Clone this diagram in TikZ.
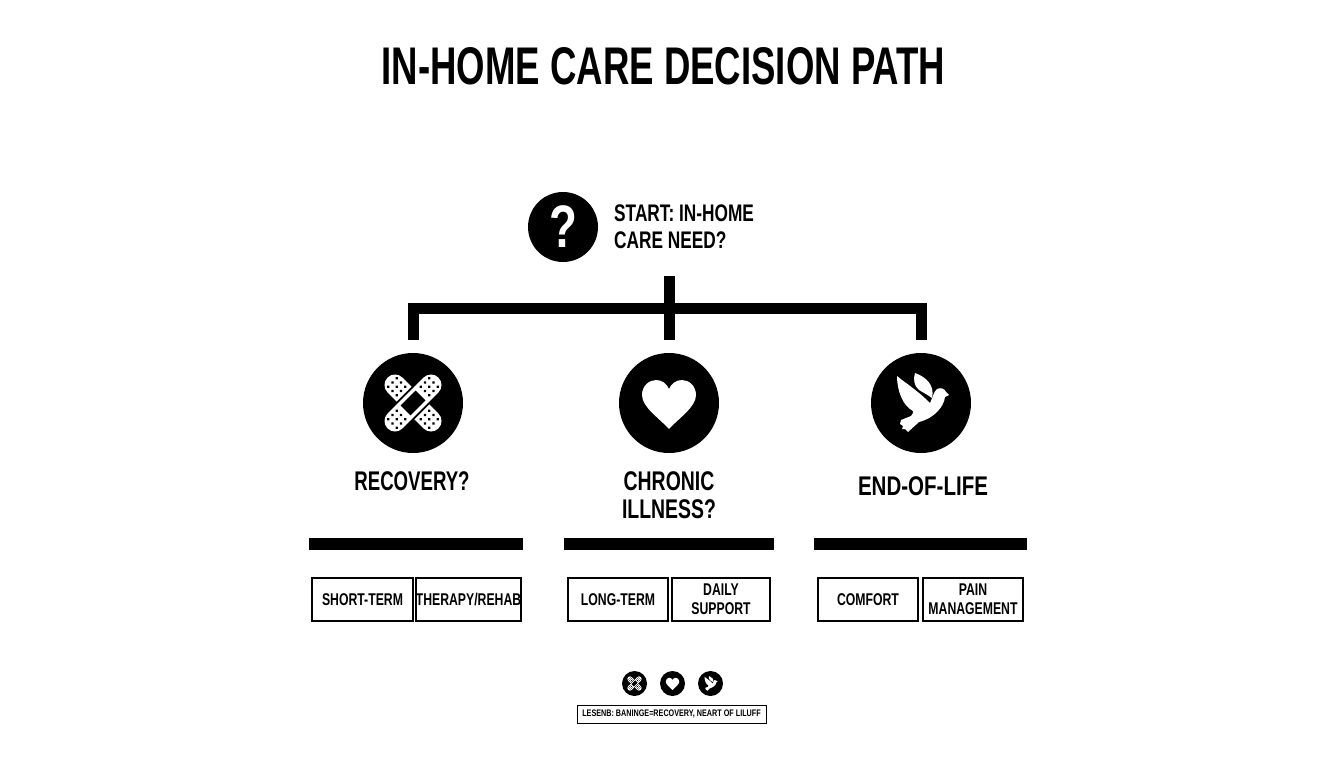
\documentclass[tikz,border=0pt]{standalone}
\usepackage{fontspec}
\setmainfont{Liberation Sans}[FakeStretch=0.69]
\newfontfamily\midfont{Liberation Sans}[FakeStretch=0.72]
\newfontfamily\widefont{Liberation Sans}[FakeStretch=0.76]
\newcommand{\fs}[1]{\fontsize{#1}{#1}\selectfont\bfseries}
\newcommand{\armdots}{%
  \foreach \u in {17,23,29}{\foreach \v in {-6,0,6}{\fill[black] (\u,\v) circle[radius=1.5];}}}
\newcommand{\bandageicon}[3]{%
 \begin{scope}[shift={(#1,#2)},scale=#3]
  \draw[white,line cap=round,line width=#3*21pt] (-18,-18) -- (18,18);
  \foreach \r in {135,315}{\begin{scope}[rotate=\r]\armdots\end{scope}}
  \draw[black,line cap=butt,line width=#3*25pt] (-17,17) -- (17,-17);
  \draw[white,line cap=round,line width=#3*21pt] (-18,18) -- (18,-18);
  \foreach \r in {45,225}{\begin{scope}[rotate=\r]\armdots\end{scope}}
  \draw[black,line cap=butt,line width=#3*14pt] (-7.5,7.5) -- (7.5,-7.5);
 \end{scope}}
\newcommand{\hearticon}[3]{%
 \fill[white,shift={(#1,#2)},scale=#3] (0,26) .. controls (-10,15) and (-27,4) .. (-27,-8)
   .. controls (-27,-17) and (-20,-23) .. (-13,-23) .. controls (-7,-23) and (-2,-19) .. (0,-14)
   .. controls (2,-19) and (7,-23) .. (13,-23) .. controls (20,-23) and (27,-17) .. (27,-8)
   .. controls (27,4) and (10,15) .. (0,26) -- cycle;}
\newcommand{\doveicon}[3]{%
 \begin{scope}[shift={(#1,#2)},scale=#3]
 \fill[white] (28,-8) -- (24,-6) .. controls (23,3) and (14,15) .. (-2,19)
   -- (-13,29) -- (-16,26) -- (-19,26) -- (-18,23) -- (-21,21) -- (-20,17) -- (-10,13)
   .. controls (-8,11) and (-8,10) .. (-8,8)
   .. controls (-18,3) and (-24,-12) .. (-24,-27)
   .. controls (-17,-21) and (-4,-13) .. (9,0)
   .. controls (11,-4) and (13,-12) .. (16,-14)
   .. controls (20,-16) and (24,-14) .. (25,-11) -- cycle;
 \fill[white] (-6,-30) .. controls (5,-26) and (14,-18) .. (11,-5)
   .. controls (7,-8) and (3,-10) .. (-2,-13) .. controls (-7,-17) and (-8,-24) .. (-6,-30) -- cycle;
 \end{scope}}
\tikzset{
  disc/.style={circle,fill=black,inner sep=0,minimum size=#1},
  label/.style={inner sep=0,align=center,text=black,font=\fs{27}},
  thick bar/.style={fill=black,inner sep=0,minimum height=12pt},
  option/.style={draw=black,line width=2pt,inner sep=0,minimum height=43pt,align=center,font=\midfont\fs{17},fill=white},
  tree/.style={line width=11pt,line cap=butt,line join=miter,draw=black}
}
\begin{document}
\begin{tikzpicture}[x=1pt,y=-1pt]
\useasboundingbox (0,0) rectangle (1344,768);
\fill[white] (0,0) rectangle (1344,768);
\node[inner sep=0,font=\fs{53}] (title) at (663.5,66) {IN-HOME CARE DECISION PATH};
\node[disc=70pt] (start) at (563,227) {};
\node[inner sep=0,text=white,font=\widefont\fs{60}] (qmark) at (563,227) {?};
\node[inner sep=0,anchor=west,align=left,font=\midfont\fs{24}] (starttext) at (614,227) {START: IN-HOME\\[3pt]CARE NEED?};
\coordinate (stem) at (669.5,276);
\coordinate (hubL) at (413.5,308.5);
\coordinate (hubR) at (921,308.5);
\node[disc=100pt] (rec) at (413,403) {};
\node[disc=100pt] (chr) at (669,403) {};
\node[disc=100pt] (eol) at (921,403) {};
\coordinate (recT) at (413.5,340);
\coordinate (chrT) at (669.5,340);
\coordinate (eolT) at (921,340);
\draw[tree] (recT) -- (hubL) -- (hubR) -- (eolT);
\draw[tree] (stem) -- (chrT);
\bandageicon{413}{403}{1}
\hearticon{669}{403}{1}
\doveicon{921}{403}{1}
\node[label] (l1) at (412,481) {RECOVERY?};
\node[label,font=\midfont\fs{27}] (l2) at (669,495) {CHRONIC\\[1pt]ILLNESS?};
\node[label,font=\widefont\fs{27}] (l3) at (923,486) {END-OF-LIFE};
\node[thick bar,minimum width=214pt] (b1) at (416,544) {};
\node[thick bar,minimum width=210pt] (b2) at (669,544) {};
\node[thick bar,minimum width=213pt] (b3) at (920.5,544) {};
\node[option,minimum width=101pt] (o1) at (362.5,599.5) {SHORT-TERM};
\node[option,minimum width=103pt] (o2) at (468.5,599.5) {THERAPY/REHAB};
\node[option,minimum width=100pt] (o3) at (618,599.5) {LONG-TERM};
\node[option,minimum width=98pt] (o4) at (721,599.5) {DAILY\\[2pt]SUPPORT};
\node[option,minimum width=100pt] (o5) at (868,599.5) {COMFORT};
\node[option,minimum width=100pt] (o6) at (973,599.5) {PAIN\\[2pt]MANAGEMENT};
\node[disc=25pt] (k1) at (634.5,683.5) {};
\node[disc=25pt] (k2) at (672.5,683.5) {};
\node[disc=25pt] (k3) at (710.5,683.5) {};
\bandageicon{634.5}{683.5}{0.25}
\hearticon{672.5}{683.5}{0.25}
\doveicon{710.5}{683.5}{0.25}
\node[draw=black,line width=1pt,inner sep=0,minimum width=189pt,minimum height=18pt,font=\widefont\fs{9.5}] (legend) at (671.5,714) {LESENB: BANINGE=RECOVERY, NEART OF LILUFF};
\end{tikzpicture}
\end{document}
